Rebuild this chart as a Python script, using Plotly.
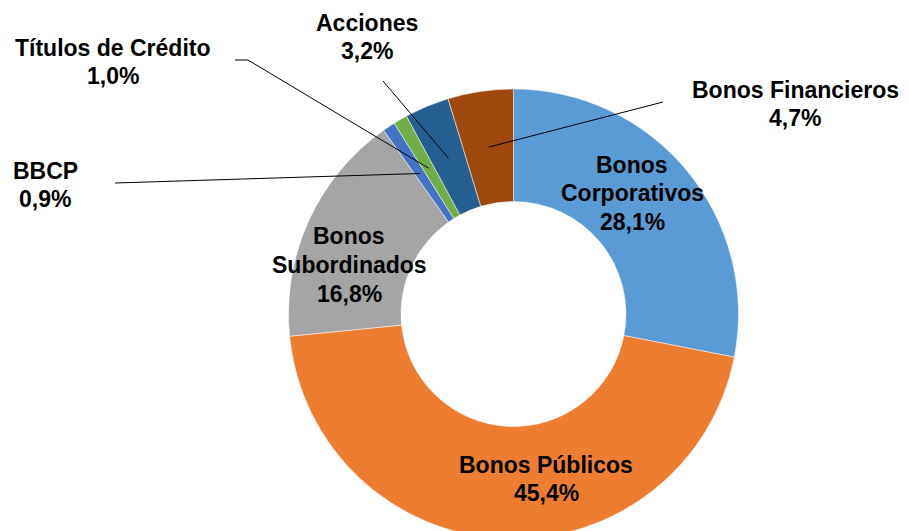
import numpy as np
import plotly.graph_objects as go

# Daten
etiketten = [
    "Bonos Corporativos",
    "Bonos Públicos",
    "Bonos Subordinados",
    "BBCP",
    "Títulos de Crédito",
    "Acciones",
    "Bonos Financieros",
]
zeilen = [
    ["Bonos", "Corporativos"],
    ["Bonos Públicos"],
    ["Bonos", "Subordinados"],
    ["BBCP"],
    ["Títulos de Crédito"],
    ["Acciones"],
    ["Bonos Financieros"],
]
werte = [28.1, 45.4, 16.8, 0.9, 1.0, 3.2, 4.7]
farben = ["#5B9BD5", "#ED7D31", "#A5A5A5", "#4472C4", "#70AD47", "#255E91", "#9E480E"]

W, H = 909, 531
VERSATZ = 8  # Seitenrand des Browsers (body margin)

# Kreisgeometrie (Bildschirm-Pixel)
cx, cy = 513.5, 314
r_aussen = 225
loch = 0.5

# Beschriftungspositionen (Bildschirm-Pixel, Mitte des Textblocks)
text_pos = {
    "Bonos Corporativos": (632, 193),
    "Bonos Públicos": (546, 479),
    "Bonos Subordinados": (349, 265),
    "BBCP": (45, 185),
    "Títulos de Crédito": (113, 62),
    "Acciones": (367, 37),
    "Bonos Financieros": (795, 104),
}
zeilenabstand = 28.5
# Endpunkte der Führungslinien ausserhalb des Kreises
linien_ende = {
    "BBCP": [(115, 183)],
    "Títulos de Crédito": [(248, 60), (235, 60)],
    "Acciones": [(383, 81)],
    "Bonos Financieros": [(663, 102)],
}


def px(x, y):
    return (x - VERSATZ) / W, 1 - (y - VERSATZ) / H


fig = go.Figure()

x0d, y1d = px(cx - 260, cy - r_aussen)
x1d, y0d = px(cx + 260, cy + r_aussen)
fig.add_trace(
    go.Pie(
        labels=etiketten,
        values=werte,
        hole=loch,
        sort=False,
        direction="clockwise",
        rotation=0,
        textinfo="none",
        marker=dict(colors=farben, line=dict(color="white", width=0.5)),
        domain=dict(x=[x0d, x1d], y=[max(y0d, 0), y1d]),
        showlegend=False,
    )
)

# Beschriftungen (zeilenweise)
for lab, zl, w in zip(etiketten, zeilen, werte):
    tx, ty = text_pos[lab]
    alle = zl + [f"{w:.1f}%".replace(".", ",")]
    n = len(alle)
    for k, t in enumerate(alle):
        x, y = px(tx, ty + (k - (n - 1) / 2) * zeilenabstand)
        fig.add_annotation(
            x=x,
            y=y,
            xref="paper",
            yref="paper",
            text=f"<b>{t}</b>",
            showarrow=False,
            xanchor="center",
            yanchor="middle",
            font=dict(family="Liberation Sans", size=23, color="black"),
        )

# Führungslinien vom Segmentmittelpunkt nach aussen
gesamt = sum(werte)
kum = np.cumsum([0] + werte)
r_mitte = r_aussen * (1 + loch) / 2
for i, lab in enumerate(etiketten):
    if lab not in linien_ende:
        continue
    winkel = np.deg2rad((kum[i] + werte[i] / 2) / gesamt * 360)
    sx = cx + r_mitte * np.sin(winkel)
    sy = cy - r_mitte * np.cos(winkel)
    punkte = [(sx, sy)] + linien_ende[lab]
    for (xa, ya), (xb, yb) in zip(punkte[:-1], punkte[1:]):
        a0, b0 = px(xa, ya)
        a1, b1 = px(xb, yb)
        fig.add_shape(
            type="line",
            xref="paper",
            yref="paper",
            x0=a0,
            y0=b0,
            x1=a1,
            y1=b1,
            line=dict(color="black", width=1),
        )

fig.update_layout(
    width=W,
    height=H,
    margin=dict(l=0, r=0, t=0, b=0),
    plot_bgcolor="white",
    paper_bgcolor="white",
)

fig.write_html("out.html")
